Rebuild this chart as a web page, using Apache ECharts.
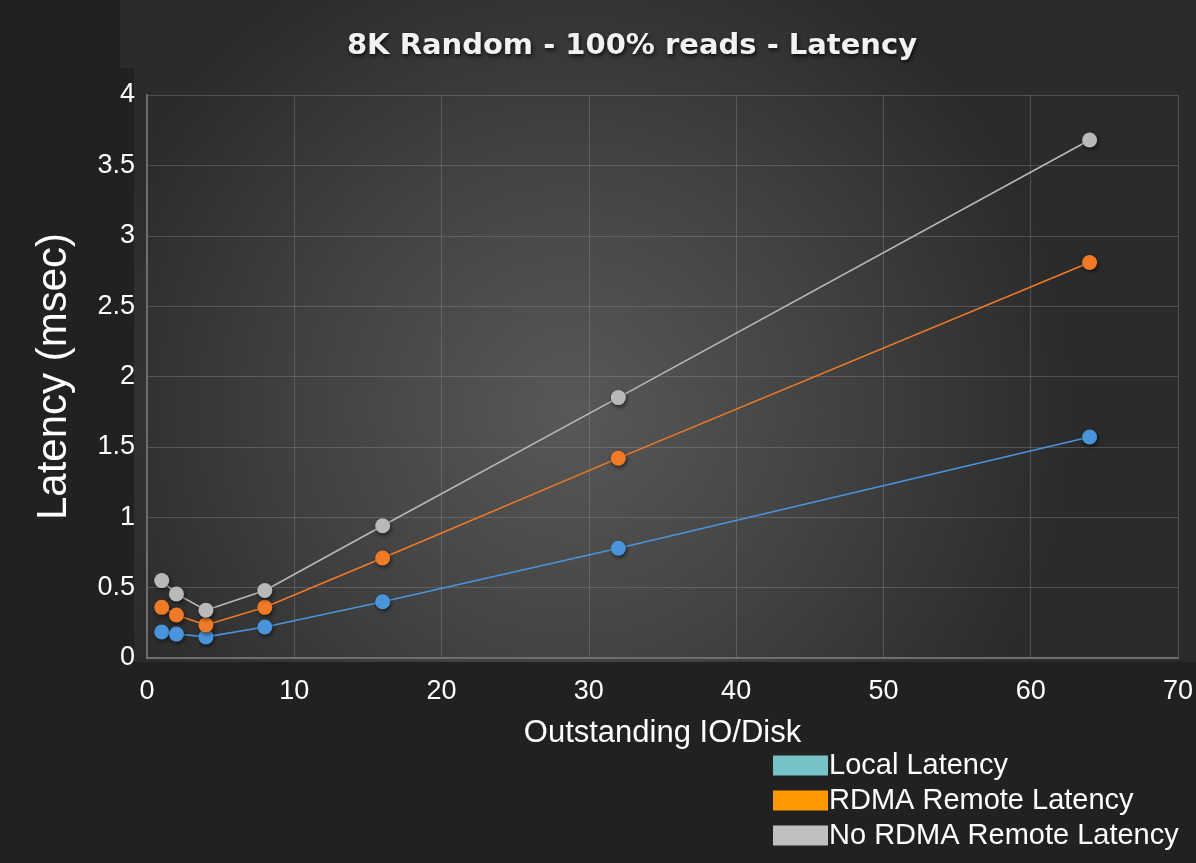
<html>
<head>
    <meta http-equiv="Content-Type" content="text/html; charset=utf-8">
    <title>echarts</title>
    <style>html,body{margin:0;padding:0;background:#212121;}</style>
</head>
<body>
<div id="main" style="width:1196px;height:863px;"></div>
<script type="text/javascript" src="https://cdn.jsdelivr.net/npm/echarts@6/dist/echarts.min.js"></script>
<script type="text/javascript">
var outstandingIO = [1, 2, 4, 8, 16, 32, 64];
var localLatency = [0.185, 0.17, 0.15, 0.22, 0.40, 0.78, 1.57];
var rdmaLatency = [0.36, 0.305, 0.235, 0.36, 0.71, 1.42, 2.81];
var noRdmaLatency = [0.55, 0.455, 0.34, 0.48, 0.94, 1.85, 3.68];

function pairs(ys){
    var out = [];
    for (var i = 0; i < outstandingIO.length; i++) out.push([outstandingIO[i], ys[i]]);
    return out;
}

function lineSeries(name, color, ys){
    return {
        name: name,
        type: 'line',
        data: pairs(ys),
        symbol: 'circle',
        symbolSize: 15,
        color: color,
        lineStyle: {color: color, width: 1.6},
        itemStyle: {color: color, shadowColor: 'rgba(0,0,0,0.6)', shadowBlur: 4, shadowOffsetX: 1, shadowOffsetY: 2},
        z: 3
    };
}

var myChart = echarts.init(document.getElementById("main"));

var option = {
    backgroundColor: '#212121',
    animation: false,
    graphic: [{
        type: 'polygon',
        z: -10,
        silent: true,
        shape: {points: [[120, 0], [1196, 0], [1196, 662], [134, 662], [134, 68], [120, 68]]},
        style: {
            fill: new echarts.graphic.RadialGradient(0.42, 0.62, 0.75, [
                {offset: 0, color: '#585858'},
                {offset: 0.5, color: '#434343'},
                {offset: 1, color: '#2b2b2b'}
            ])
        }
    }],
    title: {
        text: '8K Random - 100% reads - Latency',
        left: 627,
        textAlign: 'center',
        top: 27,
        textStyle: {
            color: '#f2f2f2',
            fontFamily: 'DejaVu Sans',
            fontWeight: 'bold',
            fontSize: 29,
            textShadowColor: 'rgba(0,0,0,0.8)',
            textShadowBlur: 4,
            textShadowOffsetX: 1,
            textShadowOffsetY: 2
        }
    },
    grid: {left: 147, right: 16, top: 95, bottom: 205, containLabel: false},
    legend: {
        orient: 'vertical',
        left: 768,
        top: 746,
        itemWidth: 55,
        itemHeight: 20,
        itemGap: 6,
        icon: 'rect',
        textStyle: {color: '#ffffff', fontFamily: 'Liberation Sans', fontSize: 29, lineHeight: 28, padding: [0, 0, 0, -4]},
        data: [
            {name: 'Local Latency', itemStyle: {color: '#77c2c6'}},
            {name: 'RDMA Remote Latency', itemStyle: {color: '#ff9900'}},
            {name: 'No RDMA Remote Latency', itemStyle: {color: '#c0c0c0'}}
        ]
    },
    xAxis: {
        type: 'value',
        min: 0,
        max: 70,
        interval: 10,
        name: 'Outstanding IO/Disk',
        nameLocation: 'middle',
        nameGap: 60,
        nameTextStyle: {color: '#ffffff', fontFamily: 'Liberation Sans', fontSize: 31},
        axisLine: {show: true, lineStyle: {color: '#6e6e6e', width: 2}},
        axisTick: {show: false},
        axisLabel: {color: '#ffffff', fontFamily: 'Liberation Sans', fontSize: 27, margin: 20},
        splitLine: {show: true, lineStyle: {color: 'rgba(150,150,150,0.35)', width: 1}}
    },
    yAxis: {
        type: 'value',
        min: 0,
        max: 4,
        interval: 0.5,
        name: 'Latency (msec)',
        nameLocation: 'middle',
        nameGap: 72,
        nameTextStyle: {color: '#ffffff', fontFamily: 'Liberation Sans', fontSize: 42},
        axisLine: {show: true, lineStyle: {color: '#6e6e6e', width: 2}},
        axisTick: {show: false},
        axisLabel: {color: '#ffffff', fontFamily: 'Liberation Sans', fontSize: 27, margin: 12},
        splitLine: {show: true, lineStyle: {color: 'rgba(150,150,150,0.35)', width: 1}}
    },
    series: [
        lineSeries('Local Latency', '#4a94dc', localLatency),
        lineSeries('RDMA Remote Latency', '#f07a26', rdmaLatency),
        lineSeries('No RDMA Remote Latency', '#b9b9b9', noRdmaLatency)
    ]
};
myChart.setOption(option);
</script>
</body>
</html>
